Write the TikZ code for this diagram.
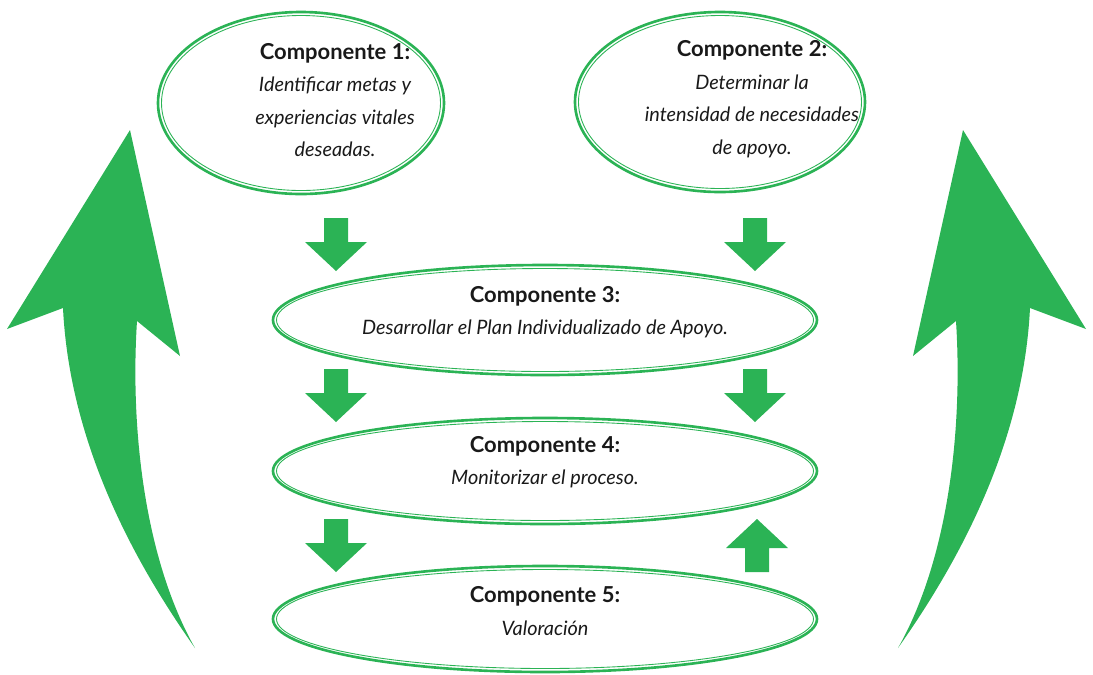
\documentclass[tikz,border=0pt]{standalone}
\usepackage{fontspec}
\setmainfont{Lato}
\definecolor{verde}{RGB}{43,179,85}
\newcommand\itl[1]{{\fontsize{11.3}{18.5}\selectfont\itshape #1}}
\tikzset{
  borde/.style={draw=verde, line width=1.5pt},
  bordein/.style={draw=verde, line width=0.5pt},
  txt/.style={align=center, font=\fontsize{12.5}{18.5}\selectfont, text=black!90}
}
\begin{document}
\begin{tikzpicture}[x=0.02cm, y=-0.02cm, line join=round]
				\useasboundingbox (0,0) rectangle (1093,674);
				% elipses dobles
				\foreach \x/\y/\a/\b in {301/103/143/91, 720/102/145/90, 545/320/272/55, 545/471/272/53, 545/619/272/53}{
					\draw[borde] (\x,\y) ellipse [x radius=\a, y radius=\b];
					\draw[bordein] (\x,\y) ellipse [x radius=\a-3.5, y radius=\b-3.5];
				}
				\node[txt] (C1) at (335,100) {\textbf{Componente 1:}\\ \itl{Identificar metas y}\\ \itl{experiencias vitales}\\ \itl{deseadas.}};
				\node[txt] (C2) at (752,99) {\textbf{Componente 2:}\\ \itl{Determinar la}\\ \itl{intensidad de necesidades}\\ \itl{de apoyo.}};
				\node[txt] (C3) at (545,312) {\textbf{Componente 3:}\\ \itl{Desarrollar el Plan Individualizado de Apoyo.}};
				\node[txt] (C4) at (545,462) {\textbf{Componente 4:}\\ \itl{Monitorizar el proceso.}};
				\node[txt] (C5) at (545,611) {\textbf{Componente 5:}\\ \itl{Valoraci\'on}};
				% flechas pequenas
				\foreach \x/\y in {336/218, 755/218, 336/369, 755/369, 336/519}
					\fill[verde] (\x-12,\y) -- (\x-12,\y+24) -- (\x-31,\y+24) -- (\x,\y+53) -- (\x+31,\y+24) -- (\x+12,\y+24) -- (\x+12,\y) -- cycle;
				\fill[verde] (757,572) -- (757-12,572) -- (757-12,548) -- (757-31,548) -- (757,519) -- (757+31,548) -- (757+12,548) -- (757+12,572) -- cycle;
				% flechas grandes
				\foreach \s in {1,-1}
					\fill[verde, xshift=546.5*0.02cm, xscale=\s, xshift=-546.5*0.02cm] (195,648) .. controls (140,570) and (70,450) .. (63,308) -- (7,329) -- (130,130) -- (180,356) -- (137,321) .. controls (130,430) and (145,560) .. (195,648) -- cycle;
\end{tikzpicture}
\end{document}
